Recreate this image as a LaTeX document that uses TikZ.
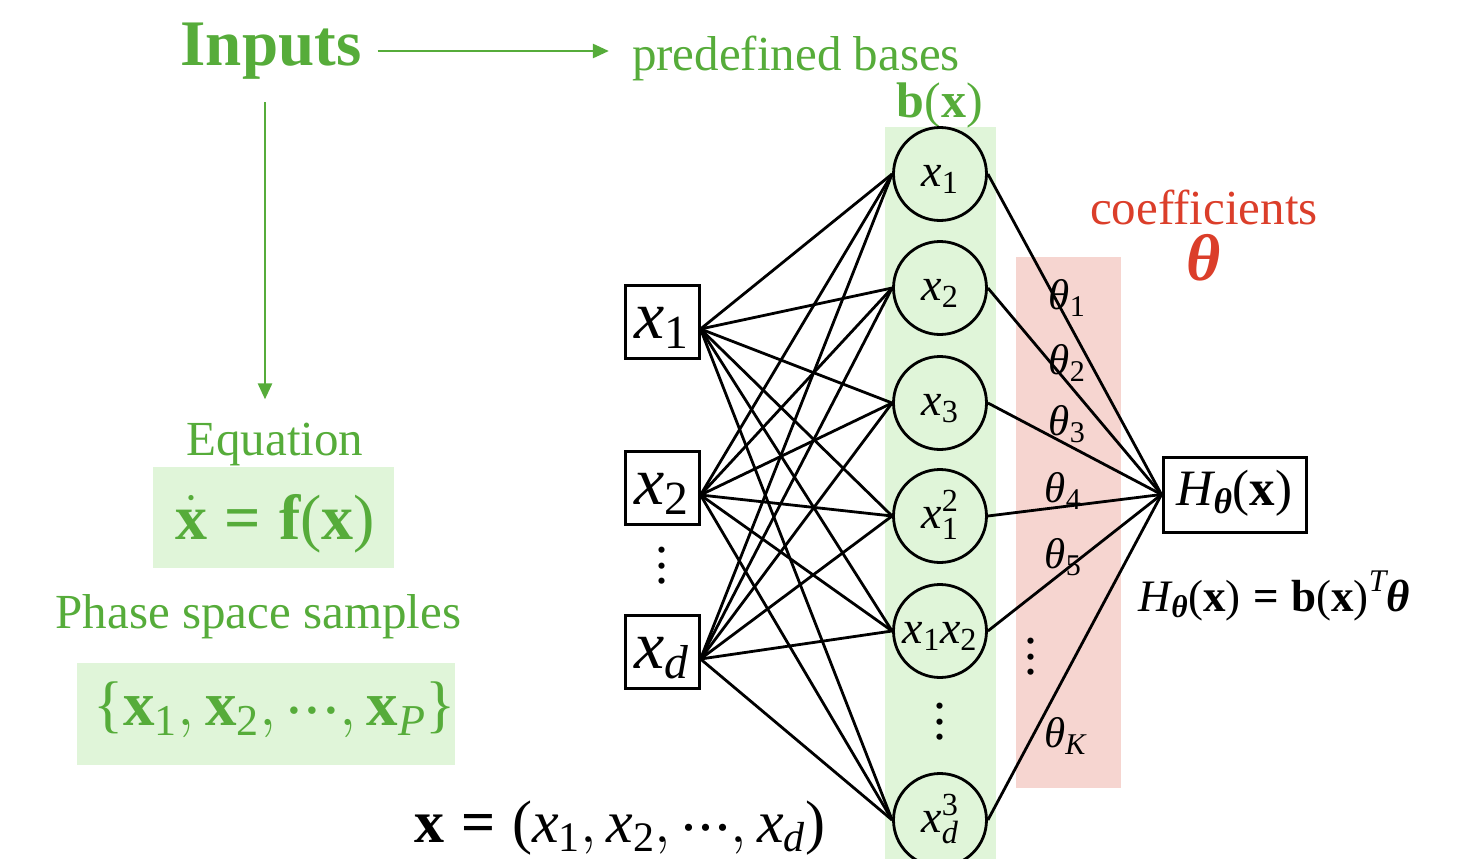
\RequirePackage{fix-cm}
\documentclass[tikz,border=0pt]{standalone}
\usepackage{amsmath}
\usepackage{fontspec}
\setmainfont{Liberation Serif}
\usetikzlibrary{arrows.meta}

\definecolor{sgreen}{RGB}{86,172,58}
\definecolor{bandgreen}{RGB}{224,245,217}
\definecolor{bandpink}{RGB}{246,213,208}
\definecolor{cred}{RGB}{219,62,42}

\newcommand\fs[1]{\fontsize{#1}{#1}\selectfont}
\newcommand\iv[1]{\text{\normalfont\itshape #1}}
\newcommand\bv[1]{\text{\normalfont\bfseries #1}}
\newcommand\rv[1]{\text{\normalfont #1}}
\newcommand\bth{\text{\normalfont\bfseries\itshape θ}}
\newcommand\mdots{\mathord{\rv{\raisebox{0.2em}{.\kern0.04em.\kern0.04em.}}}}
\newcommand\colvdots{\vbox{\baselineskip=0.3em \lineskiplimit=-20pt \hbox{.}\hbox{.}\hbox{.}}}

\tikzset{
  edge/.style={line width=2.8pt, draw=black},
  inbox/.style={draw, line width=3pt, minimum width=74pt, minimum height=73pt,
    inner sep=0pt, fill=white, font=\fs{68}, text height=51pt, text depth=18pt},
  basis/.style={circle, draw, line width=2.8pt, minimum size=93pt, inner sep=0pt,
    fill=bandgreen, font=\fs{46}, text height=36pt, text depth=11pt},
  outbox/.style={draw, line width=3pt, minimum width=143pt, minimum height=75pt,
    inner sep=0pt, fill=white, font=\fs{51}, text height=39pt, text depth=17pt},
  gtext/.style={text=sgreen, inner sep=0pt, font=\fs{49}},
  coef/.style={inner sep=0pt, font=\fs{43}},
  vdotnode/.style={inner sep=0pt, font=\fs{52}},
  garrow/.style={draw=sgreen, line width=2.6pt, -{Triangle[length=16pt,width=14pt]}},
}

\begin{document}
\begin{tikzpicture}[x=1pt,y=-1pt]
\useasboundingbox (0,0) rectangle (1460,859);

% shaded columns: basis functions and coefficients
\fill[bandgreen] (885,127) rectangle (996,859);
\fill[bandpink] (1016,257) rectangle (1121,788);

% left column: inputs
\node[gtext, font=\bfseries\fs{65}] (inputs) at (271,51) {Inputs};
\node[gtext] (predef) at (796,58) {predefined bases};
\node[gtext] (eqlabel) at (275,444) {Equation};
\fill[bandgreen] (153,467) rectangle (394,568);
\node[gtext, font=\fs{64}] (eq) at (275,524)
  {$\dot{\bv{x}} \mathrel{\bv{=}} \bv{f}\rv{(}\bv{x}\rv{)}$};
\node[gtext] (phase) at (258.5,617) {Phase space samples};
\fill[bandgreen] (77,663) rectangle (455,765);
\node[gtext, font=\fs{63}] (samples) at (274.5,710)
  {$\rv{\{}\bv{x}_{\rv{1}}, \bv{x}_{\rv{2}}, \mdots, \bv{x}_{\iv{P}}\rv{\}}$};

\draw[garrow, shorten <=16pt, shorten >=23pt] (inputs.east) -- (inputs.east -| predef.west);
\draw[garrow, shorten <=23pt, shorten >=23pt]
  ([xshift=-6pt]inputs.south) -- ([xshift=-6pt]inputs.south |- eqlabel.north);

% input variables
\node[inbox] (i1) at (662,322) {$\iv{x}_{\rv{1}}$};
\node[inbox] (i2) at (662,488) {$\iv{x}_{\rv{2}}$};
\node[inbox] (id) at (662,652) {$\iv{x}_{\iv{d}}$};
\node[vdotnode] (idots) at (662,566) {\colvdots};

% basis functions
\node[gtext, font=\fs{50}] (bx) at (940,105) {$\bv{b}\rv{(}\bv{x}\rv{)}$};
\node[basis] (b1) at (940,174) {$\iv{x}_{\rv{1}}$};
\node[basis] (b2) at (940,288) {$\iv{x}_{\rv{2}}$};
\node[basis] (b3) at (940,403) {$\iv{x}_{\rv{3}}$};
\node[basis] (b4) at (940,516) {$\iv{x}_{\rv{1}}^{\rv{2}}$};
\node[basis] (b5) at (940,631) {$\iv{x}_{\rv{1}}\iv{x}_{\rv{2}}$};
\node[basis] (b6) at (940,820) {$\iv{x}_{\iv{d}}^{\rv{3}}$};
\node[vdotnode] (bdots) at (940,722) {\colvdots};

% output
\node[outbox] (H) at (1234.5,494.5) {$\iv{H}_{\bth}\rv{(}\bv{x}\rv{)}$};

% full connections input -> basis
\foreach \i in {i1,i2,id}
  \foreach \b in {b1,b2,b3,b4,b5,b6}
    \draw[edge] ([yshift=-7pt]\i.east) -- (\b.west);

% weighted connections basis -> output
\foreach \b in {b1,b2,b3,b4,b5,b6}
  \draw[edge] (\b.east) -- (H.west);

% coefficient labels
\node[coef] (t1) at (1067,298) {$\iv{θ}_{\rv{1}}$};
\node[coef] (t2) at (1067,363) {$\iv{θ}_{\rv{2}}$};
\node[coef] (t3) at (1067,424) {$\iv{θ}_{\rv{3}}$};
\node[coef] (t4) at (1063,491) {$\iv{θ}_{\rv{4}}$};
\node[coef] (t5) at (1063,557) {$\iv{θ}_{\rv{5}}$};
\node[vdotnode] (tdots) at (1031,657) {\colvdots};
\node[coef] (tK) at (1065,736) {$\iv{θ}_{\iv{K}}$};

\node[inner sep=0pt, text=cred, font=\fs{49}] (coeff) at (1204,207) {coefficients};
\node[inner sep=0pt, text=cred, font=\bfseries\itshape\fs{66}] (theta) at (1204,258) {θ};

% formulas
\node[inner sep=0pt, font=\fs{45}] (hform) at (1274.5,596)
  {$\iv{H}_{\bth}\rv{(}\bv{x}\rv{)} \mathrel{\bv{=}} \bv{b}\rv{(}\bv{x}\rv{)}^{\iv{T}}\bth$};
\node[inner sep=0pt, font=\fs{60}] (xdef) at (620,828)
  {$\bv{x} \mathrel{\bv{=}} \rv{(}\iv{x}_{\rv{1}}, \iv{x}_{\rv{2}}, \mdots, \iv{x}_{\iv{d}}\rv{)}$};
\end{tikzpicture}
\end{document}
